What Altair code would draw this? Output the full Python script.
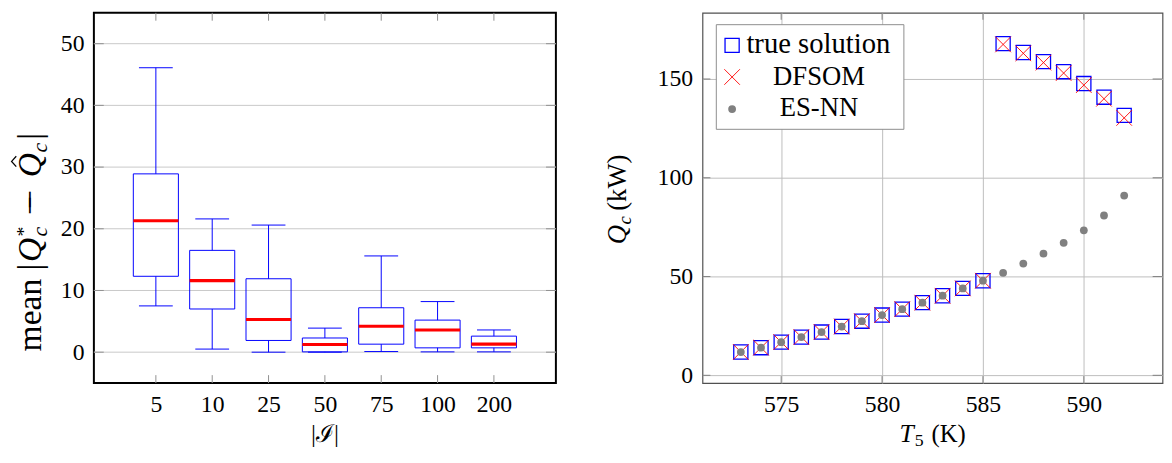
import altair as alt
import pandas as pd

FONT = "Liberation Serif"

# ---------------- left panel data (box plots) ----------------
I_LABELS = ["5", "10", "25", "50", "75", "100", "200"]
BOX_POS = [1, 2, 3, 4, 5, 6, 7]
WHISK_LO = [7.5, 0.5, 0.0, 0.0, 0.1, 0.05, 0.05]
Q1 = [12.3, 7.0, 1.9, 0.05, 1.3, 0.7, 0.7]
MEDIAN = [21.3, 11.6, 5.3, 1.25, 4.2, 3.6, 1.3]
Q3 = [28.9, 16.5, 11.9, 2.3, 7.2, 5.2, 2.6]
WHISK_HI = [46.1, 21.6, 20.6, 3.9, 15.6, 8.2, 3.6]
LEFT_YTICKS = [0, 10, 20, 30, 40, 50]

# ---------------- right panel data ----------------
T5 = [573, 574, 575, 576, 577, 578, 579, 580, 581, 582,
      583, 584, 585, 586, 587, 588, 589, 590, 591, 592]
TRUE_SOL = [11.8, 14.0, 16.8, 19.35, 21.9, 24.7, 27.4, 30.5, 33.5, 36.8,
            40.3, 44.0, 47.9, 167.9, 163.4, 158.8, 153.7, 147.7, 140.8, 131.6]
DFSOM = [11.8, 14.0, 16.8, 19.35, 21.9, 24.7, 27.4, 30.5, 33.5, 36.8,
         40.3, 44.0, 47.9, 167.5, 163.0, 158.3, 153.0, 146.9, 140.0, 130.3]
ES_NN = [11.8, 14.0, 16.8, 19.35, 21.9, 24.7, 27.4, 30.5, 33.5, 36.8,
         40.3, 44.0, 47.9, 51.9, 56.6, 61.6, 67.1, 73.4, 80.9, 91.0]
RIGHT_XTICKS = [575, 580, 585, 590]
RIGHT_YTICKS = [0, 50, 100, 150]
LEGEND_LABELS = ["true solution", "DFSOM", "ES-NN"]

WL, WR, H = 468, 466, 375
BLUE, RED, GRAY = "#0000ff", "#ff0000", "#808080"


def txt(s, x, y, size, italic=False, angle=0, align="left"):
    return alt.Chart(alt.Data(values=[{"t": s}])).mark_text(
        angle=angle, align=align, baseline="alphabetic", font=FONT,
        fontSize=size, fontStyle="italic" if italic else "normal", color="black"
    ).encode(x=alt.value(x), y=alt.value(y), text="t:N")


one = alt.Data(values=[{"k": 0}])

# ---------------- left panel ----------------
box_df = pd.DataFrame({"pos": BOX_POS, "lab": I_LABELS, "lo": WHISK_LO, "q1": Q1,
                       "med": MEDIAN, "q3": Q3, "hi": WHISK_HI})
label_expr = "[" + ",".join("'%s'" % s for s in I_LABELS) + "][datum.value - 1]"

xs_l = alt.Scale(domain=[-0.1, 8.1], nice=False, zero=False)
ys_l = alt.Scale(domain=[-5, 55], nice=False, zero=False)
yaxis_l = alt.Axis(values=LEFT_YTICKS, grid=False, ticks=False, domain=False,
                   labelFont=FONT, labelFontSize=24, labelColor="black",
                   labelPadding=10, title="")
xaxis_l = alt.Axis(values=BOX_POS, labelExpr=label_expr, grid=False, ticks=False,
                   domain=False, labelFont=FONT, labelFontSize=24,
                   labelColor="black", labelPadding=10, title="")


def XL(f):
    return alt.X(f, scale=xs_l, axis=xaxis_l, title="")


def YL(f):
    return alt.Y(f, scale=ys_l, axis=yaxis_l, title="")


base_l = alt.Chart(box_df).transform_calculate(
    xl="datum.pos - 0.4", xr="datum.pos + 0.4",
    cl="datum.pos - 0.3", cr="datum.pos + 0.3")
lt_df = pd.DataFrame({"v": LEFT_YTICKS})

grid_l = alt.Chart(lt_df).mark_rule(color="#c8c8c8", strokeWidth=1).encode(
    y=YL("v:Q"), x=alt.value(0), x2=alt.value(WL))
ytick_l1 = alt.Chart(lt_df).mark_rule(color="#909090").encode(
    y=YL("v:Q"), x=alt.value(0), x2=alt.value(10))
ytick_l2 = alt.Chart(lt_df).mark_rule(color="#909090").encode(
    y=YL("v:Q"), x=alt.value(WL - 10), x2=alt.value(WL))
xtick_top = base_l.mark_rule(color="#909090").encode(
    x=XL("pos:Q"), y=alt.value(0), y2=alt.value(8))
xtick_bot = base_l.mark_rule(color="#909090").encode(
    x=XL("pos:Q"), y=alt.value(H - 8), y2=alt.value(H))

whisk_up = base_l.mark_rule(color=BLUE, strokeWidth=1).encode(
    x=XL("pos:Q"), y=YL("q3:Q"), y2="hi:Q")
whisk_dn = base_l.mark_rule(color=BLUE, strokeWidth=1).encode(
    x=XL("pos:Q"), y=YL("lo:Q"), y2="q1:Q")
cap_hi = base_l.mark_rule(color=BLUE, strokeWidth=1).encode(
    x=XL("cl:Q"), x2="cr:Q", y=YL("hi:Q"))
cap_lo = base_l.mark_rule(color=BLUE, strokeWidth=1).encode(
    x=XL("cl:Q"), x2="cr:Q", y=YL("lo:Q"))
boxes = base_l.mark_rect(fillOpacity=0, stroke=BLUE, strokeWidth=1).encode(
    x=XL("xl:Q"), x2="xr:Q", y=YL("q1:Q"), y2="q3:Q")
meds = base_l.mark_rule(color=RED, strokeWidth=3.2).encode(
    x=XL("xl:Q"), x2="xr:Q", y=YL("med:Q"))

# invisible spacer that fixes the left edge of the whole figure
spacer = alt.Chart(one).mark_rule(opacity=0).encode(
    x=alt.value(-86), y=alt.value(100), y2=alt.value(110))

cl = H / 2.0
lt_x = -54
left_title = [
    txt("mean |", lt_x, cl + 155.5, 34, angle=270),
    txt("Q", lt_x, cl + 65, 34, italic=True, angle=270),
    txt("*", lt_x - 11, cl + 39, 20, angle=270),
    txt("c", lt_x + 6, cl + 39, 22, italic=True, angle=270),
    txt("\u2212", lt_x, cl + 17, 34, angle=270),
    txt("\u2212", lt_x, cl + 11, 34, angle=270),
    txt("Q", lt_x, cl - 21, 34, italic=True, angle=270),
    txt("c", lt_x + 6, cl - 46, 22, italic=True, angle=270),
    txt("|", lt_x, cl - 59, 34, angle=270),
]
hat = alt.Chart(one).mark_point(shape="M0.45,-1L-0.45,0L0.45,1", filled=False,
                                size=110, color="black", strokeWidth=1.3,
                                opacity=1).encode(
    x=alt.value(lt_x - 27), y=alt.value(cl - 37))
left_xtitle = txt("|\u2110|", WL / 2, H + 60, 25, align="center")

left = alt.layer(spacer, grid_l, ytick_l1, ytick_l2, xtick_top, xtick_bot,
                 whisk_up, whisk_dn, cap_hi, cap_lo, boxes, meds,
                 *left_title, hat, left_xtitle).properties(
    width=WL, height=H,
    view=alt.ViewBackground(stroke="black", strokeWidth=2))

# ---------------- right panel ----------------
rdf = pd.DataFrame({"T": T5, "true": TRUE_SOL, "dfsom": DFSOM, "esnn": ES_NN})
xs_r = alt.Scale(domain=[571.1, 593.9], nice=False, zero=False)
ys_r = alt.Scale(domain=[-3.9, 183.5], nice=False, zero=False)

xaxis_r = alt.Axis(values=RIGHT_XTICKS, grid=True, gridColor="#bdbdbd", ticks=False,
                   domain=False, labelFont=FONT, labelFontSize=24,
                   labelColor="black", labelPadding=10, format="d", title="")
yaxis_r = alt.Axis(values=RIGHT_YTICKS, grid=True, gridColor="#bdbdbd", ticks=False,
                   domain=False, labelFont=FONT, labelFontSize=24,
                   labelColor="black", labelPadding=10, title="")


def XR(f):
    return alt.X(f, scale=xs_r, axis=xaxis_r, title="")


def YR(f):
    return alt.Y(f, scale=ys_r, axis=yaxis_r, title="")


base_r = alt.Chart(rdf)
squares = base_r.mark_point(shape="square", filled=False, size=205, color=BLUE,
                            strokeWidth=1.3, opacity=1).encode(
    x=XR("T:Q"), y=YR("true:Q"))
cross_path = "M-1,-1L1,1M-1,1L1,-1"
crosses = base_r.mark_point(shape=cross_path, filled=False, size=250, color=RED,
                            strokeWidth=0.9, opacity=1).encode(
    x=XR("T:Q"), y=YR("dfsom:Q"))
dots = base_r.mark_circle(size=62, color=GRAY, opacity=1).encode(
    x=XR("T:Q"), y=YR("esnn:Q"))

xt_df = pd.DataFrame({"v": RIGHT_XTICKS})
yt_df = pd.DataFrame({"v": RIGHT_YTICKS})
rt1 = alt.Chart(xt_df).mark_rule(color="#808080").encode(
    x=XR("v:Q"), y=alt.value(H - 7), y2=alt.value(H))
rt2 = alt.Chart(xt_df).mark_rule(color="#808080").encode(
    x=XR("v:Q"), y=alt.value(0), y2=alt.value(7))
rt3 = alt.Chart(yt_df).mark_rule(color="#808080").encode(
    y=YR("v:Q"), x=alt.value(0), x2=alt.value(8))
rt4 = alt.Chart(yt_df).mark_rule(color="#808080").encode(
    y=YR("v:Q"), x=alt.value(WR - 10), x2=alt.value(WR))

# legend (drawn by hand, pgfplots style)
leg_box = alt.Chart(one).mark_rect(fill="white", stroke="#8c8c8c", strokeWidth=1).encode(
    x=alt.value(14), x2=alt.value(204), y=alt.value(12), y2=alt.value(118))
leg_sq = alt.Chart(one).mark_point(shape="square", filled=False, size=205, color=BLUE,
                                   strokeWidth=1.3, opacity=1).encode(
    x=alt.value(30), y=alt.value(33))
leg_x = alt.Chart(one).mark_point(shape=cross_path, filled=False, size=250, color=RED,
                                  strokeWidth=0.9, opacity=1).encode(
    x=alt.value(30), y=alt.value(65))
leg_dot = alt.Chart(one).mark_circle(size=62, color=GRAY, opacity=1).encode(
    x=alt.value(30), y=alt.value(97.5))
leg_t1 = txt(LEGEND_LABELS[0], 44.5, 41, 29)
leg_t2 = txt(LEGEND_LABELS[1], 118, 73, 27, align="center")
leg_t3 = txt(LEGEND_LABELS[2], 118, 105, 27, align="center")

cr = H / 2.0
rt_x = -77.5
right_title = [
    txt("Q", rt_x, cr + 47, 27, italic=True, angle=270),
    txt("c", rt_x + 5, cr + 27, 19, italic=True, angle=270),
    txt("(kW)", rt_x, cr + 13, 27, angle=270),
]
right_xtitle = [
    txt("T", 199.5, H + 60, 26, italic=True),
    txt("5", 215, H + 64, 18),
    txt("(K)", 232, H + 60, 25),
]

right = alt.layer(rt1, rt2, rt3, rt4, squares, crosses, dots,
                  leg_box, leg_sq, leg_x, leg_dot, leg_t1, leg_t2, leg_t3,
                  *right_title, *right_xtitle).properties(
    width=WR, height=H,
    view=alt.ViewBackground(stroke="#505050", strokeWidth=1.2))

chart = alt.hconcat(left, right, spacing=45.5).properties(
    padding={"left": 0, "top": 0, "right": 0, "bottom": 0}
).resolve_scale(x="independent", y="independent")

chart.save("out.html", embed_options={"renderer": "svg", "actions": False})
